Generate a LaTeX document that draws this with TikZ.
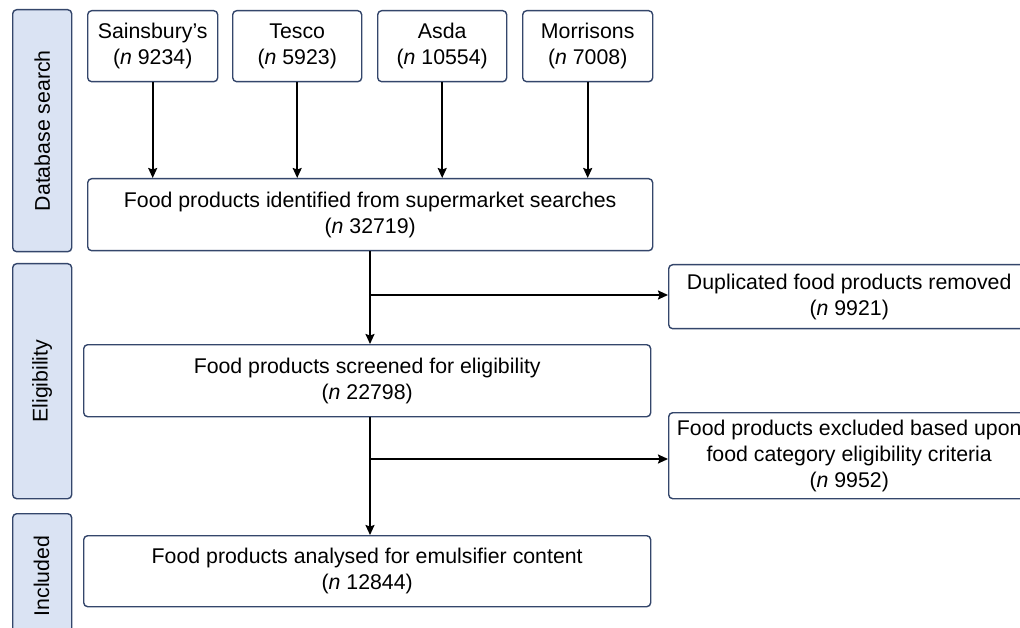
\documentclass[tikz,border=0pt]{standalone}
\usepackage{fontspec}
\setmainfont{Liberation Sans}
\usetikzlibrary{arrows.meta}
\definecolor{bordc}{HTML}{34466B}
\definecolor{sidefill}{HTML}{DAE3F3}
\begin{document}
\begin{tikzpicture}[x=1pt,y=-1pt,
  font=\fontsize{21.3}{26}\selectfont,
  box/.style={draw=bordc, line width=1.4pt, rounded corners=4pt, fill=white,
    anchor=north west, inner sep=0pt, align=center},
  side/.style={draw=bordc, line width=1.4pt, rounded corners=4pt, fill=sidefill,
    anchor=north west, inner sep=0pt},
  arr/.style={line width=1.8pt, -{Stealth[length=10pt,width=9pt,inset=1.5pt]}}]
\useasboundingbox (0,0) rectangle (1020,628);
% side bars
\node[side, minimum width=59pt, minimum height=242pt] (sdb) at (12,9) {};
\node[rotate=90] (tdb) at (sdb.center) {Database search};
\node[side, minimum width=59pt, minimum height=235pt] (sel) at (12,263) {};
\node[rotate=90] (tel) at (sel.center) {Eligibility};
\node[side, minimum width=59pt, minimum height=130pt] (sin) at (12,513) {};
\node[rotate=90] (tin) at (12+29.5,576) {Included};
% store boxes
\node[box, minimum width=130pt, minimum height=71pt] (s1) at (87,10) {Sainsbury’s\\(\textit{n} 9234)};
\node[box, minimum width=129pt, minimum height=71pt] (s2) at (232,10) {Tesco\\(\textit{n} 5923)};
\node[box, minimum width=129pt, minimum height=71pt] (s3) at (377,10) {Asda\\(\textit{n} 10554)};
\node[box, minimum width=130pt, minimum height=71pt] (s4) at (522,10) {Morrisons\\(\textit{n} 7008)};
% main boxes
\node[box, minimum width=565pt, minimum height=72pt] (b1) at (87,178) {Food products identified from supermarket searches\\(\textit{n} 32719)};
\node[box, minimum width=567pt, minimum height=72pt] (b2) at (83,344) {Food products screened for eligibility\\(\textit{n} 22798)};
\node[box, minimum width=567pt, minimum height=71pt] (b3) at (83,535) {Food products analysed for emulsifier content\\(\textit{n} 12844)};
% right boxes
\node[box, minimum width=361pt, minimum height=64pt] (r1) at (668,264) {Duplicated food products removed\\(\textit{n} 9921)};
\node[box, minimum width=361pt, minimum height=86pt] (r2) at (668,412) {Food products excluded based upon\\food category eligibility criteria\\(\textit{n} 9952)};
% connectors
\foreach \s in {s1,s2,s3,s4}
  \draw[arr] (\s.south) -- (\s.south |- b1.north);
\coordinate (j1) at (370,295);
\coordinate (j2) at (370,459);
\draw[arr] (b1.south -| j1) -- (b2.north -| j1);
\draw[arr] (j1) -- (j1 -| r1.west);
\draw[arr] (b2.south -| j2) -- (b3.north -| j2);
\draw[arr] (j2) -- (j2 -| r2.west);
\end{tikzpicture}
\end{document}
